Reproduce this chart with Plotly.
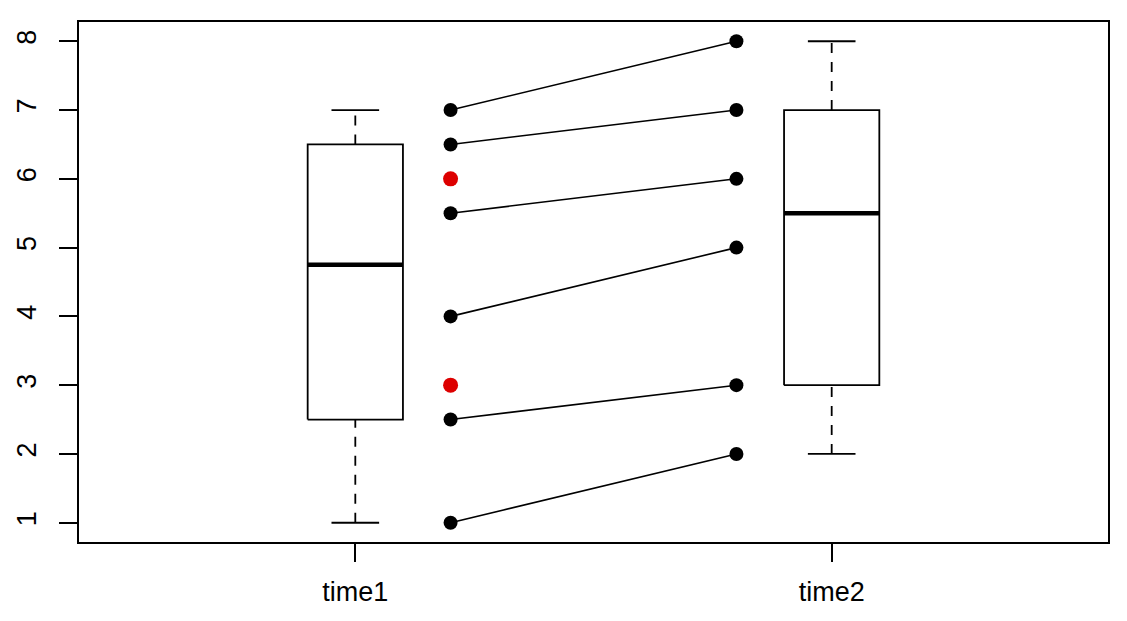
import numpy as np
import plotly.graph_objects as go

# ---- data ----
categories = ["time1", "time2"]
time1 = [1, 2.5, 4, 5.5, 6.5, 7]
time2 = [2, 3, 5, 6, 7, 8]
extra_red = [6, 3]          # extra red points next to time1
y_ticks = [1, 2, 3, 4, 5, 6, 7, 8]

box_pos = [1, 2]
pt_pos = [1.2, 1.8]


def fivenum(v):
    v = np.sort(np.asarray(v, dtype=float))
    n = len(v)
    n4 = np.floor((n + 3) / 2) / 2
    d = np.array([1, n4, (n + 1) / 2, n + 1 - n4, n]) - 1
    return 0.5 * (v[np.floor(d).astype(int)] + v[np.ceil(d).astype(int)])


fig = go.Figure()
LW = 1.8
BOX_HW = 0.1
STAPLE_HW = 0.05

for pos, vals in zip(box_pos, [time1, time2]):
    lo, q1, med, q3, hi = fivenum(vals)
    # box
    fig.add_trace(go.Scatter(
        x=[pos - BOX_HW, pos + BOX_HW, pos + BOX_HW, pos - BOX_HW, pos - BOX_HW],
        y=[q1, q1, q3, q3, q1], mode="lines",
        line=dict(color="black", width=LW), hoverinfo="skip"))
    # median
    fig.add_trace(go.Scatter(
        x=[pos - BOX_HW, pos + BOX_HW], y=[med, med], mode="lines",
        line=dict(color="black", width=4.5), hoverinfo="skip"))
    # whiskers (dashed)
    for a, b in [(lo, q1), (q3, hi)]:
        fig.add_trace(go.Scatter(
            x=[pos, pos], y=[a, b], mode="lines",
            line=dict(color="black", width=LW, dash="10px,9px"), hoverinfo="skip"))
    # staples
    for s in [lo, hi]:
        fig.add_trace(go.Scatter(
            x=[pos - STAPLE_HW, pos + STAPLE_HW], y=[s, s], mode="lines",
            line=dict(color="black", width=LW), hoverinfo="skip"))

# paired lines
for a, b in zip(time1, time2):
    fig.add_trace(go.Scatter(
        x=pt_pos, y=[a, b], mode="lines+markers",
        line=dict(color="black", width=1.6),
        marker=dict(color="black", size=14), hoverinfo="skip"))

# red points
fig.add_trace(go.Scatter(
    x=[pt_pos[0]] * len(extra_red), y=extra_red, mode="markers",
    marker=dict(color="rgb(221,0,0)", size=15), hoverinfo="skip"))

fig.update_layout(
    width=1127, height=621,
    margin=dict(l=79, r=19, t=22, b=79),
    paper_bgcolor="white", plot_bgcolor="white",
    showlegend=False,
    font=dict(family="Liberation Sans, Arial, sans-serif", size=27, color="black"),
)
fig.update_xaxes(
    range=[0.42, 2.58], tickvals=box_pos, ticktext=categories,
    ticks="outside", ticklen=18, tickwidth=1.6, tickcolor="black",
    showline=True, linecolor="black", linewidth=2, mirror=True,
    showgrid=False, zeroline=False, ticklabelstandoff=7,
)
fig.update_yaxes(
    range=[0.72, 8.28], tickvals=y_ticks, ticktext=[str(t) for t in y_ticks],
    tickangle=-90,
    ticks="outside", ticklen=18, tickwidth=1.6, tickcolor="black",
    showline=True, linecolor="black", linewidth=2, mirror=True,
    showgrid=False, zeroline=False, ticklabelstandoff=12,
)

fig.write_html("out.html")
